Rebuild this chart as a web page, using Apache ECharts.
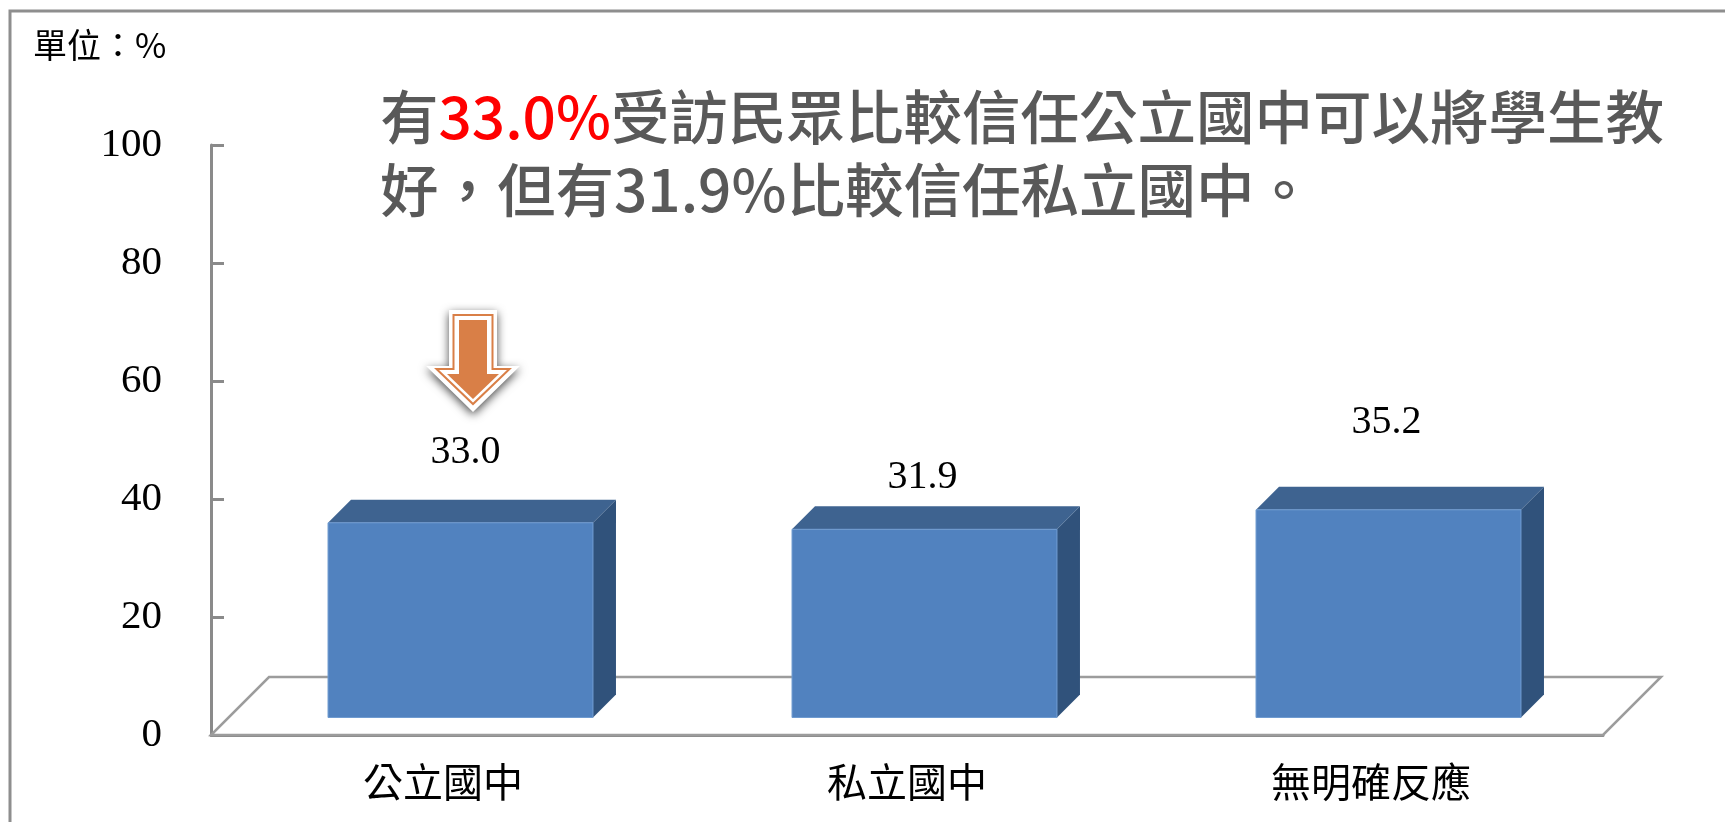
<!DOCTYPE html>
<html>
<head>
<meta charset="utf-8">
<title>公立國中與私立國中信任度</title>
<style>
html, body { margin: 0; padding: 0; background: #fff; }
#chart { width: 1725px; height: 822px; }
</style>
<script src="https://cdn.jsdelivr.net/npm/echarts@6/dist/echarts.min.js"></script>
</head>
<body>
<div id="chart"></div>
<script>
var categories = ['公立國中', '私立國中', '無明確反應'];
var values = [33.0, 31.9, 35.2];
var yTicks = [0, 20, 40, 60, 80, 100];

var cUnit = '單位：%';
var aLine1 = ['有', '33.0%', '受訪民眾比較信任公立國中可以將學生教'];
var cLine2 = '好，但有31.9%比較信任私立國中。';

// 3D look of the bars and the floor, in pixels
var nFloorDepth = 58;
var nBarInset = 17.5;
var nBarDepth = 23;
var nBarRatio = 0.571;
// value labels sit at hand placed spots in the original
var aLabelLift = [47, 29, 64];
var aLabelShift = [2, -5, -5];

var cSerif = '"Liberation Serif", "Times New Roman", serif';
var cSans = '"Noto Sans CJK TC", "Noto Sans", sans-serif';

// the slab under the bars
function renderFloor(params, api) {
    var o = params.coordSys;
    var nBase = o.y + o.height;
    var nRight = o.x + o.width;
    return {
        type: 'polygon',
        silent: true,
        shape: {
            points: [
                [o.x, nBase],
                [nRight, nBase],
                [nRight + nFloorDepth, nBase - nFloorDepth],
                [o.x + nFloorDepth, nBase - nFloorDepth]
            ]
        },
        style: { fill: '#fff', stroke: '#9c9c9c', lineWidth: 2.5 }
    };
}

// one box: front, top and side faces plus the value text
function renderBar(params, api) {
    var nIdx = api.value(0);
    var nVal = api.value(1);
    var aTop = api.coord([nIdx, nVal]);
    var aBase = api.coord([nIdx, 0]);
    var nW = api.size([1, 0])[0] * nBarRatio;
    var x0 = aTop[0] + nBarInset - nW / 2;
    var x1 = x0 + nW;
    var y0 = aTop[1] - nBarInset;
    var y1 = aBase[1] - nBarInset;
    var d = nBarDepth;
    return {
        type: 'group',
        children: [
            {
                type: 'polygon',
                shape: { points: [[x1, y0], [x1 + d, y0 - d], [x1 + d, y1 - d], [x1, y1]] },
                style: { fill: '#30527b' }
            },
            {
                type: 'polygon',
                shape: { points: [[x0, y0], [x0 + d, y0 - d], [x1 + d, y0 - d], [x1, y0]] },
                style: { fill: '#3e6390' }
            },
            {
                type: 'rect',
                shape: { x: x0, y: y0, width: nW, height: y1 - y0 },
                style: { fill: '#5182bf', stroke: '#6f9bd0', lineWidth: 1 }
            },
            {
                type: 'text',
                style: {
                    x: (x0 + x1) / 2 + 3 + aLabelShift[nIdx],
                    y: y0 - d - aLabelLift[nIdx],
                    text: nVal.toFixed(1),
                    fill: '#000',
                    font: '40px ' + cSerif,
                    align: 'center',
                    verticalAlign: 'middle'
                }
            }
        ]
    };
}

function arrowPoints(nCx, nTop, nShaft, nHead, nNeck, nTip) {
    return [
        [nCx - nShaft, nTop], [nCx + nShaft, nTop], [nCx + nShaft, nNeck],
        [nCx + nHead, nNeck], [nCx, nTip], [nCx - nHead, nNeck], [nCx - nShaft, nNeck]
    ];
}

var oChart = echarts.init(document.getElementById('chart'));

var oChartOption = {
    backgroundColor: '#fff',
    animation: false,
    grid: { left: 211, right: 122, top: 145, bottom: 87 },
    xAxis: {
        type: 'category',
        data: categories,
        axisLine: { lineStyle: { color: '#8a8a8a', width: 3 } },
        axisTick: { show: false },
        axisLabel: {
            color: '#000',
            fontFamily: cSans,
            fontSize: 40,
            margin: 27,
            interval: 0
        }
    },
    yAxis: {
        type: 'value',
        min: yTicks[0],
        max: yTicks[yTicks.length - 1],
        interval: 20,
        splitLine: { show: false },
        axisLine: { show: true, lineStyle: { color: '#8a8a8a', width: 3 } },
        axisTick: { show: true, inside: true, length: 13, lineStyle: { color: '#8a8a8a', width: 3 } },
        axisLabel: {
            color: '#000',
            fontFamily: cSerif,
            fontSize: 41,
            margin: 49
        }
    },
    series: [
        {
            type: 'custom',
            silent: true,
            z: 1,
            renderItem: renderFloor,
            data: [[0, 0]]
        },
        {
            type: 'custom',
            z: 2,
            renderItem: renderBar,
            encode: { x: 0, y: 1 },
            data: values.map(function (v, i) { return [i, v]; })
        }
    ],
    graphic: [
        // outer frame, open on the right and at the bottom
        {
            type: 'polyline',
            shape: { points: [[10, 822], [10, 11], [1725, 11]] },
            style: { fill: 'none', stroke: '#8e8e8e', lineWidth: 3 }
        },
        {
            type: 'text',
            left: 33,
            top: 28,
            style: { text: cUnit, fill: '#000', font: '34px ' + cSans }
        },
        // headline, line 1 has a red part
        {
            type: 'text',
            x: 380,
            y: 117,
            style: {
                text: '{a|' + aLine1[0] + '}{r|' + aLine1[1] + '}{a|' + aLine1[2] + '}',
                verticalAlign: 'middle',
                rich: {
                    a: { fill: '#595959', font: '500 58.5px ' + cSans },
                    r: { fill: '#ff0000', font: '500 58.5px ' + cSans }
                }
            }
        },
        {
            type: 'text',
            x: 380,
            y: 190,
            style: {
                text: cLine2,
                fill: '#595959',
                font: '500 58.5px ' + cSans,
                verticalAlign: 'middle'
            }
        },
        // arrow over the first bar
        {
            type: 'polygon',
            shape: { points: arrowPoints(473, 310, 24, 47, 366, 412) },
            style: {
                fill: '#fff',
                shadowColor: 'rgba(0,0,0,0.7)',
                shadowBlur: 10,
                shadowOffsetY: 3
            }
        },
        {
            type: 'polygon',
            shape: { points: arrowPoints(473, 315, 19.5, 36.5, 369, 404) },
            style: { fill: '#fff', stroke: '#d97f47', lineWidth: 2 }
        },
        {
            type: 'polygon',
            shape: { points: arrowPoints(473, 320, 14, 26, 374, 399) },
            style: { fill: '#d97f47' }
        }
    ]
};

oChart.setOption(oChartOption, true);
</script>
</body>
</html>
